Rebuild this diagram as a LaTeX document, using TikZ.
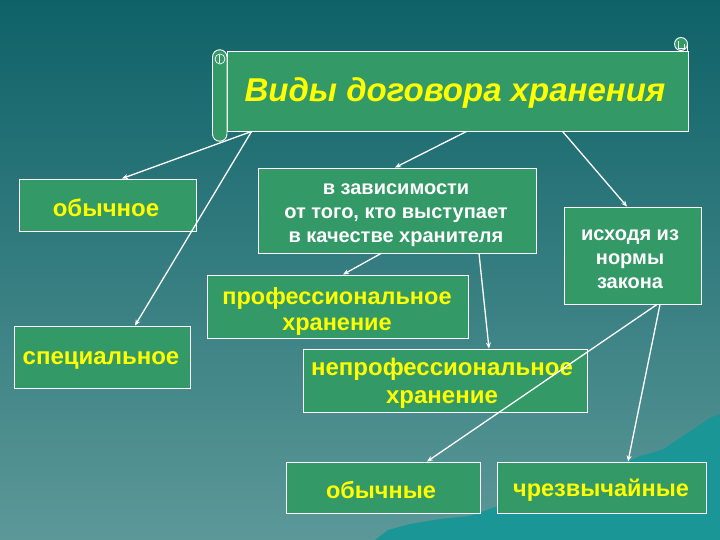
\documentclass[tikz,border=0pt]{standalone}
\usepackage{fontspec}
\setmainfont{Liberation Sans}
\usetikzlibrary{arrows.meta}
\definecolor{bgtop}{RGB}{14,98,104}
\definecolor{bgbot}{RGB}{92,152,152}
\definecolor{boxg}{RGB}{51,153,102}
\definecolor{mount}{RGB}{26,150,150}
\definecolor{ytxt}{RGB}{255,255,0}
\tikzset{
  gbox/.style={draw=white, line width=0.9pt, fill=boxg, rectangle, inner sep=0pt},
  ytext/.style={text=ytxt, align=center, inner sep=0pt, font=\bfseries\fontsize{24}{28}\selectfont},
  wtext/.style={text=white, align=center, inner sep=0pt, font=\bfseries\fontsize{20}{24}\selectfont},
  arr/.style={draw=white, line width=1.3pt, -{Stealth[length=6pt,width=5pt]}},
}
\begin{document}
\begin{tikzpicture}[x=1pt,y=-1pt]
\useasboundingbox (0,0) rectangle (720,540);
\shade[top color=bgtop, bottom color=bgbot] (0,0) rectangle (720,540);
% mountain
\fill[mount] (375,540) -- (388,530) -- (410,524) -- (440,519) -- (470,516) -- (495,507) -- (530,502) -- (565,494) -- (595,482) -- (615,468) -- (640,456) -- (662,450) -- (680,438) -- (695,428) -- (710,418) -- (720,414) -- (720,540) -- cycle;
% scroll banner
\node[gbox, minimum width=461pt, minimum height=80pt] (banner) at (457.5,91) {};
\draw[white, line width=0.9pt, fill=boxg] (212.5,57) arc[start angle=180, end angle=360, radius=7.25] -- (227,134) arc[start angle=0, end angle=180, radius=7.25] -- cycle;
\draw[white, line width=0.7pt] (220,59) circle[radius=5];
\draw[white, line width=0.7pt] (219,55) -- (219,63);
\draw[white, line width=0.9pt, fill=boxg] (681,44) circle[radius=6.5];
\draw[white, line width=0.6pt] (678,41) -- (678,48) -- (684,48) -- (684,44);
\draw[white, line width=0.9pt] (687.5,44) -- (687.5,51);
\node[font=\bfseries\itshape\fontsize{33}{38}\selectfont, text=ytxt] (title) at (455,93) {Виды договора хранения};
% boxes
\node[gbox, minimum width=177pt, minimum height=52pt] (obych) at (107.5,205) {};
\node[ytext] (obycht) at (106,208) {обычное};
\node[gbox, minimum width=176pt, minimum height=62pt] (spec) at (102,357) {};
\node[ytext] (spect) at (101,360) {специальное};
\node[gbox, minimum width=278pt, minimum height=85pt] (zav) at (397,210.5) {};
\node[wtext] (zavt) at (396,215) {в зависимости\\от того, кто выступает\\в качестве хранителя};
\node[gbox, minimum width=261pt, minimum height=63pt] (prof) at (337.5,306.5) {};
\node[ytext, font=\bfseries\fontsize{23.5}{26}\selectfont] (proft) at (337,311) {профессиональное\\хранение};
\node[gbox, minimum width=137pt, minimum height=97pt] (ishod) at (632.5,255.5) {};
\node[wtext] (ishodt) at (630,259.5) {исходя из\\нормы\\закона};
\node[gbox, minimum width=284pt, minimum height=63pt] (neprof) at (445,380.5) {};
\node[ytext] (nepproft) at (442,383) {непрофессиональное\\хранение};
\node[gbox, minimum width=194pt, minimum height=51pt] (obn) at (383,487.5) {};
\node[ytext, font=\bfseries\fontsize{23.5}{28}\selectfont] (obnt) at (381,490) {обычные};
\node[gbox, minimum width=209pt, minimum height=51pt] (chr) at (601.5,487.5) {};
\node[ytext, font=\bfseries\fontsize{23.5}{28}\selectfont] (chrt) at (601,490) {чрезвычайные};
% arrows
\draw[arr] ([xshift=25pt]banner.south west) -- ([xshift=14.5pt]obych.north);
\draw[arr] ([xshift=25pt]banner.south west) -- ([xshift=33pt]spec.north);
\draw[arr] ([xshift=240pt]banner.south west) -- ([xshift=-2pt]zav.north);
\draw[arr] ([xshift=336pt]banner.south west) -- ([xshift=-5.5pt]ishod.north);
\draw[arr] ([xshift=-16pt]zav.south) -- ([xshift=5.5pt]prof.north);
\draw[arr] ([xshift=82pt]zav.south) -- ([xshift=44pt]neprof.north);
\draw[arr] ([xshift=24.5pt]ishod.south) -- ([xshift=44pt]obn.north);
\draw[arr] ([xshift=27.5pt]ishod.south) -- ([xshift=26.5pt]chr.north);
\end{tikzpicture}
\end{document}
